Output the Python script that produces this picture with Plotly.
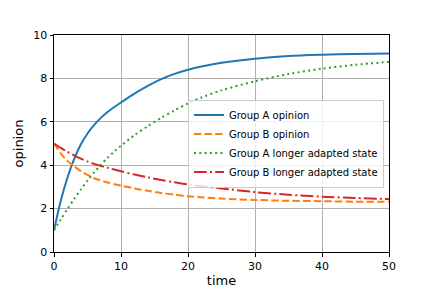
import plotly.graph_objects as go

# time samples and read-off values
t_a = [0, 1, 2, 3, 4, 5, 6, 7, 8, 9, 10, 12, 14, 16, 18, 20, 22, 25, 30, 35, 40, 45, 50]
group_a = [1.0, 2.35, 3.42, 4.28, 4.95, 5.46, 5.86, 6.18, 6.45, 6.68, 6.89, 7.3, 7.66, 7.97, 8.21,
           8.4, 8.55, 8.72, 8.91, 9.03, 9.09, 9.13, 9.15]

t_b = [0, 1, 2, 3, 4, 5, 6, 8, 10, 12, 14, 16, 18, 20, 22, 25, 30, 35, 40, 45, 50]
group_b = [5.0, 4.55, 4.2, 3.95, 3.73, 3.55, 3.4, 3.2, 3.06, 2.93, 2.82, 2.72, 2.64, 2.57, 2.52,
           2.46, 2.4, 2.36, 2.34, 2.32, 2.31]

t_al = [0, 1, 2, 3, 4, 5, 6, 7, 8, 9, 10, 12, 14, 16, 18, 20, 22, 25, 30, 35, 40, 45, 50]
group_a_long = [1.0, 1.5, 1.98, 2.44, 2.88, 3.29, 3.67, 4.02, 4.34, 4.63, 4.9, 5.38, 5.8, 6.18, 6.53,
                6.85, 7.12, 7.45, 7.87, 8.2, 8.45, 8.63, 8.76]

t_bl = [0, 1, 2, 3, 4, 5, 6, 8, 10, 12, 14, 16, 18, 20, 22, 25, 30, 35, 40, 45, 50]
group_b_long = [5.0, 4.8, 4.62, 4.45, 4.3, 4.17, 4.06, 3.88, 3.72, 3.57, 3.44, 3.32, 3.21, 3.11, 3.03,
                2.93, 2.76, 2.64, 2.55, 2.49, 2.44]

x_ticks = [0, 10, 20, 30, 40, 50]
y_ticks = [0, 2, 4, 6, 8, 10]

SM = 0.8
fig = go.Figure()
fig.add_trace(go.Scatter(x=t_a, y=group_a, mode="lines", name="Group A opinion",
                         line=dict(color="#1f77b4", width=2, shape="spline", smoothing=SM)))
fig.add_trace(go.Scatter(x=t_b, y=group_b, mode="lines", name="Group B opinion",
                         line=dict(color="#ff7f0e", width=2, shape="spline", smoothing=SM,
                                   dash="7.4px,3.2px")))
fig.add_trace(go.Scatter(x=t_al, y=group_a_long, mode="lines", name="Group A longer adapted state",
                         line=dict(color="#2ca02c", width=2, shape="spline", smoothing=SM,
                                   dash="2px,3.3px")))
fig.add_trace(go.Scatter(x=t_bl, y=group_b_long, mode="lines", name="Group B longer adapted state",
                         line=dict(color="#d62728", width=2, shape="spline", smoothing=SM,
                                   dash="12.8px,3.2px,2px,3.2px")))

axis_common = dict(
    showgrid=True, gridcolor="#b0b0b0", gridwidth=0.8,
    showline=True, linecolor="black", linewidth=1, mirror=True,
    ticks="outside", ticklen=3.5, tickwidth=0.8, tickcolor="black",
    tickfont=dict(size=11, color="black"), zeroline=False, automargin=False,
)

fig.update_layout(
    width=432, height=288,
    margin=dict(l=54, r=43, t=35, b=36),
    paper_bgcolor="white", plot_bgcolor="white",
    font=dict(family="DejaVu Sans", size=11, color="black"),
    xaxis=dict(range=[0, 50], tickvals=x_ticks, title=dict(text="time", standoff=4), **axis_common),
    yaxis=dict(range=[0, 10], tickvals=y_ticks, title=dict(text="opinion", standoff=6), **axis_common),
    legend=dict(x=0.985, xanchor="right", y=0.50, yanchor="middle",
                bgcolor="rgba(255,255,255,0.8)", bordercolor="#cccccc", borderwidth=1,
                font=dict(size=10), itemwidth=30, tracegroupgap=0),
    showlegend=True,
)

fig.write_html("out.html", config={"displayModeBar": False},
               post_script="document.body.style.margin='0';")
